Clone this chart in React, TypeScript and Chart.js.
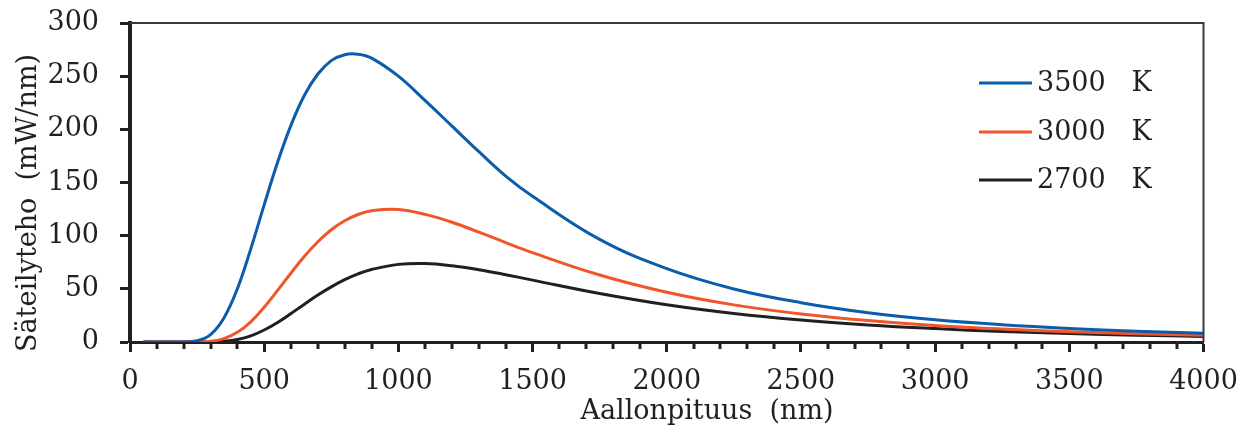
import React, { useEffect, useRef } from "react";
import { Chart, registerables } from "chart.js";

Chart.register(...registerables);

const wavelengths = [50, 100, 200, 250, 300, 350, 400, 450, 500, 550, 600, 650, 700, 750, 800, 850, 900, 1000, 1100, 1200, 1300, 1400, 1500, 1750, 2000, 2250, 2500, 2750, 3000, 3250, 3500, 3750, 4000];
const k3500 = [0, 0, 0, 1.1, 6.9, 22.6, 50, 87.6, 129, 169, 204, 232, 252, 264.6, 270.2, 270.6, 267, 250, 227, 203, 179, 156, 137, 96.5, 69, 49.9, 37, 27.6, 21, 16.3, 12.8, 10.2, 8.2];
const k3000 = [0, 0, 0, 0.1, 0.7, 3.2, 9.1, 19, 32.7, 48.5, 64.9, 80.6, 94.3, 105.6, 114, 119.9, 123.5, 124.7, 120, 112.6, 103.3, 93.5, 84, 63, 46.8, 34.9, 26.4, 20.2, 15.6, 12.2, 9.7, 7.8, 6.3];
const k2700 = [0, 0, 0, 0, 0.1, 0.7, 2.4, 5.8, 11.3, 18.4, 26.8, 35.6, 44.1, 51.8, 58.6, 64.1, 68.2, 73, 73.8, 71.7, 68, 63.3, 58.2, 45.6, 35, 26.8, 20.6, 16, 12.6, 9.9, 8, 6.4, 5.2];
const seriesLabels = ["3500   K", "3000   K", "2700   K"];
const xTitle = "Aallonpituus  (nm)";
const yTitle = "Säteilyteho  (mW/nm)";

const INK = "#231F20";
const FONT = "DejaVu Serif";
const colors = ["#0B5CAB", "#F0562A", "#231F20"];

const decorPlugin = {
  id: "decor",
  afterDraw(chart: any) {
    const ctx = chart.ctx;
    const { left, right, top, bottom } = chart.chartArea;
    const xs = chart.scales.x;
    ctx.save();
    ctx.strokeStyle = "#3a3a3a";
    ctx.lineWidth = 2;
    ctx.beginPath();
    ctx.moveTo(left, top);
    ctx.lineTo(right, top);
    ctx.lineTo(right, bottom);
    ctx.stroke();
    ctx.strokeStyle = INK;
    ctx.lineWidth = 3;
    for (let v = 100; v < 4000; v += 100) {
      if (v % 500 === 0) continue;
      const px = Math.round(xs.getPixelForValue(v));
      ctx.beginPath();
      ctx.moveTo(px, bottom);
      ctx.lineTo(px, bottom + 7);
      ctx.stroke();
    }
    ctx.fillStyle = INK;
    ctx.font = `27px "${FONT}"`;
    ctx.textAlign = "center";
    ctx.textBaseline = "alphabetic";
    ctx.fillText(xTitle, 707, 419);
    ctx.save();
    ctx.translate(36, 203);
    ctx.rotate(-Math.PI / 2);
    ctx.fillText(yTitle, 0, 0);
    ctx.restore();
    const ys = [83, 132, 180];
    chart.data.datasets.forEach((ds: any, i: number) => {
      ctx.strokeStyle = ds.borderColor;
      ctx.lineWidth = 3;
      ctx.beginPath();
      ctx.moveTo(979, ys[i]);
      ctx.lineTo(1032, ys[i]);
      ctx.stroke();
      ctx.fillStyle = INK;
      ctx.textAlign = "left";
      ctx.textBaseline = "middle";
      ctx.fillText(ds.label, 1037, ys[i] + 1);
    });
    ctx.restore();
  },
};

export default function App() {
  const ref = useRef<HTMLCanvasElement | null>(null);
  useEffect(() => {
    document.body.style.margin = "0";
    const canvas = ref.current!;
    const series = [k3500, k3000, k2700];
    const chart = new Chart(canvas, {
      type: "line",
      data: {
        datasets: series.map((s, i) => ({
          label: seriesLabels[i],
          data: wavelengths.map((w, j) => ({ x: w, y: s[j] })),
          borderColor: colors[i],
          backgroundColor: colors[i],
          borderWidth: 3,
          pointRadius: 0,
          tension: 0.4,
          fill: false,
        })),
      },
      options: {
        animation: false,
        responsive: false,
        devicePixelRatio: 1,
        layout: { padding: { left: 0, top: 23, right: 47.5, bottom: 0 } },
        plugins: { legend: { display: false }, tooltip: { enabled: false }, title: { display: false } },
        scales: {
          x: {
            type: "linear",
            min: 0,
            max: 4000,
            afterFit: (s: any) => { s.height = 83; s.paddingLeft = 0; s.paddingRight = 0; },
            ticks: { stepSize: 500, autoSkip: false, maxRotation: 0, padding: 14, color: INK, font: { family: FONT, size: 27 }, callback: (v: any) => String(v) },
            grid: { drawOnChartArea: false, drawTicks: true, tickLength: 10, tickColor: INK, tickWidth: 3 },
            border: { display: true, color: INK, width: 3 },
          },
          y: {
            min: 0,
            max: 300,
            afterFit: (s: any) => { s.width = 130; s.paddingTop = 0; s.paddingBottom = 0; },
            ticks: { stepSize: 50, padding: 21, color: INK, font: { family: FONT, size: 27 }, callback: (v: any) => String(v) },
            grid: { drawOnChartArea: false, drawTicks: true, tickLength: 10, tickColor: INK, tickWidth: 3 },
            border: { display: true, color: INK, width: 4 },
          },
        },
      },
      plugins: [decorPlugin],
    });
    return () => chart.destroy();
  }, []);
  return (
    <div style={{ position: "fixed", left: 0, top: 0, width: 1251, height: 425 }}>
      <canvas ref={ref} width={1251} height={425} style={{ width: 1251, height: 425 }} />
    </div>
  );
}
